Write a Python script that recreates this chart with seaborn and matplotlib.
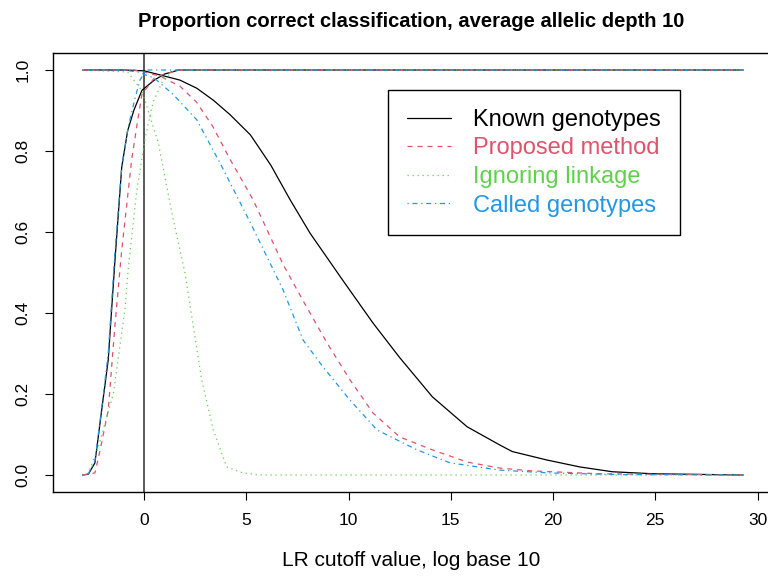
import numpy as np
import pandas as pd
import seaborn as sns
import matplotlib
matplotlib.use('Agg')
from matplotlib import pyplot as plt
from matplotlib.lines import Line2D

# curves: rising part (correct for related pairs)
# and falling part (correct for unrelated pairs), LR cutoff on log10 scale
known_up_x = [-3.0, -2.72, -2.4, -2.07, -1.75, -1.42, -1.09, -0.8, -0.5, -0.1, 0.5, 1.0, 1.7, 29.3]
known_up_y = [0.0, 0.002, 0.03, 0.16, 0.284, 0.53, 0.76, 0.85, 0.90, 0.95, 0.975, 0.99, 1.0, 1.0]
known_dn_x = [-3.0, -1.0, 0.0, 0.62, 1.76, 2.58, 3.4, 4.2, 5.2, 6.2, 7.14, 8.12, 9.73, 11.2,
              12.5, 14.1, 15.8, 17.4, 18.0, 19.7, 21.3, 22.9, 24.9, 29.3]
known_dn_y = [1.0, 1.0, 0.998, 0.99, 0.975, 0.955, 0.925, 0.89, 0.84, 0.765, 0.68, 0.597, 0.48, 0.375,
              0.29, 0.193, 0.119, 0.074, 0.058, 0.037, 0.02, 0.008, 0.003, 0.0]

prop_up_x = [-3.0, -2.4, -2.15, -1.75, -1.42, -1.1, -0.6, -0.28, -0.1, 0.5, 1.0, 1.8, 29.3]
prop_up_y = [0.0, 0.005, 0.06, 0.16, 0.37, 0.55, 0.78, 0.885, 0.94, 0.98, 0.99, 1.0, 1.0]
prop_dn_x = [-3.0, -0.5, 0.0, 0.78, 1.76, 2.58, 3.37, 4.2, 5.33, 6.8, 7.78, 8.95, 10.07, 11.2,
             12.5, 14.1, 15.8, 17.4, 19.0, 22.3, 29.3]
prop_dn_y = [1.0, 1.0, 0.995, 0.985, 0.96, 0.92, 0.86, 0.78, 0.68, 0.52, 0.43, 0.326, 0.235, 0.153,
             0.094, 0.062, 0.032, 0.017, 0.01, 0.003, 0.0]

ign_up_x = [-3.0, -2.72, -2.23, -1.5, -0.93, -0.77, -0.36, 0.05, 0.44, 0.93, 1.5, 29.3]
ign_up_y = [0.0, 0.004, 0.07, 0.2, 0.41, 0.51, 0.70, 0.83, 0.92, 0.975, 1.0, 1.0]
ign_dn_x = [-3.0, -0.8, -0.11, 0.7, 1.35, 2.0, 2.82, 3.39, 4.04, 4.84, 5.67, 29.3]
ign_dn_y = [1.0, 0.995, 0.95, 0.82, 0.65, 0.5, 0.235, 0.111, 0.02, 0.005, 0.0, 0.0]

call_up_x = [-3.0, -2.72, -2.4, -2.07, -1.75, -1.42, -1.09, -0.77, -0.44, -0.2, 0.1, 29.3]
call_up_y = [0.0, 0.003, 0.035, 0.165, 0.30, 0.55, 0.76, 0.86, 0.93, 0.975, 1.0, 1.0]
call_dn_x = [-3.0, -1.0, -0.3, 0.5, 1.42, 2.58, 3.72, 5.18, 6.8, 7.78, 8.75, 10.07, 11.4,
             13.35, 14.96, 17.4, 19.85, 23.3, 29.3]
call_dn_y = [1.0, 1.0, 0.995, 0.98, 0.94, 0.877, 0.77, 0.625, 0.457, 0.333, 0.267, 0.185, 0.111,
             0.062, 0.03, 0.012, 0.005, 0.001, 0.0]

methods = ['Known genotypes', 'Proposed method', 'Ignoring linkage', 'Called genotypes']
colors = ['#000000', '#DF536B', '#61D04F', '#2297E6']
styles = ['-', (0, (4, 4)), (0, (1, 3)), (0, (1, 3, 4, 3))]
curves = [(known_up_x, known_up_y, known_dn_x, known_dn_y),
          (prop_up_x, prop_up_y, prop_dn_x, prop_dn_y),
          (ign_up_x, ign_up_y, ign_dn_x, ign_dn_y),
          (call_up_x, call_up_y, call_dn_x, call_dn_y)]

sns.set_theme(style='white')
plt.rcParams['font.family'] = ['Liberation Sans', 'DejaVu Sans']
plt.rcParams['text.color'] = 'black'
plt.rcParams['axes.labelcolor'] = 'black'
plt.rcParams['xtick.color'] = 'black'
plt.rcParams['ytick.color'] = 'black'

fig = plt.figure(figsize=(7.68, 5.8), dpi=100)
ax = fig.add_axes([53/768, 88/580, 716/768, 439/580])

for name, col, ls, (ux, uy, dx, dy) in zip(methods, colors, styles, curves):
    for xs, ys in [(ux, uy), (dx, dy)]:
        df = pd.DataFrame({'x': xs, 'y': ys})
        sns.lineplot(data=df, x='x', y='y', ax=ax, color=col, linestyle=ls,
                     linewidth=0.9, sort=False, estimator=None)

ax.axvline(0, color='0.3', linewidth=1.3, zorder=0)

ax.set_xlim(-4.45, 30.56)
ax.set_ylim(-0.042, 1.042)
ax.set_xticks(np.arange(0, 31, 5))
ax.set_yticks(np.arange(0, 1.01, 0.2))
ax.set_yticklabels(['0.0', '0.2', '0.4', '0.6', '0.8', '1.0'], rotation=90, va='center')
ax.tick_params(axis='both', direction='out', length=6, width=0.8, color='black',
               labelsize=12.5, labelcolor='black', bottom=True, left=True)
ax.tick_params(axis='x', pad=9)
ax.tick_params(axis='y', pad=10)
for sp in ax.spines.values():
    sp.set_visible(True)
    sp.set_color('black')
    sp.set_linewidth(1.0)

ax.set_xlabel('LR cutoff value, log base 10', fontsize=15, labelpad=16.5, color='black')
ax.set_ylabel('')
ax.set_title('Proportion correct classification, average allelic depth 10',
             fontsize=14.5, fontweight='bold', pad=18.5, color='black')

handles = [Line2D([], [], color=c, linestyle=s, linewidth=0.9) for c, s in zip(colors, styles)]
leg = ax.legend(handles, methods, loc='upper left', bbox_to_anchor=(0.468, 0.916),
                fontsize=17, frameon=True, fancybox=False, framealpha=1,
                edgecolor='black', handlelength=1.85, handletextpad=0.95,
                labelspacing=0.28, borderpad=0.8, borderaxespad=0)
leg.get_frame().set_linewidth(1.0)
for t, c in zip(leg.get_texts(), colors):
    t.set_color(c)

fig.savefig('out.png', dpi=100)
